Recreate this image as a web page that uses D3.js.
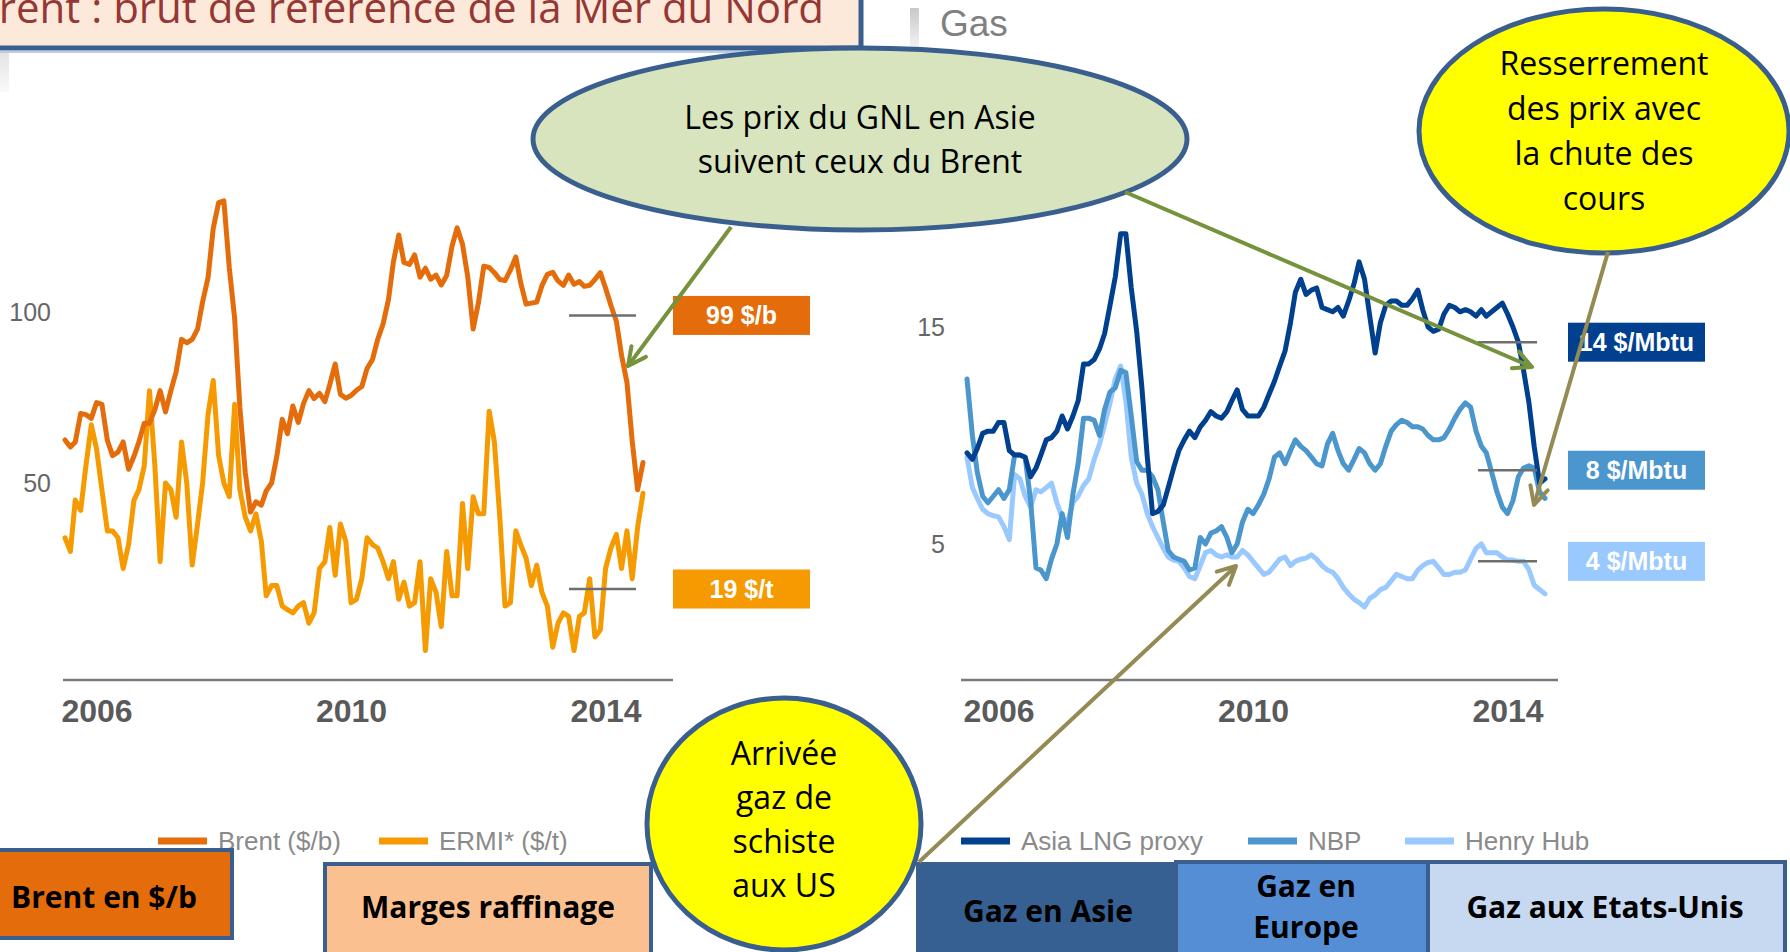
<!DOCTYPE html>
<html>
<head>
<meta charset="utf-8">
<script src="https://cdn.jsdelivr.net/npm/d3@7"></script>
<style>
  html, body { margin: 0; padding: 0; background: #fff; }
  svg { display: block; }
</style>
</head>
<body>
<script>
// monthly data, Jan 2006 -> Feb 2015
var startMonth = new Date(2006, 0, 1);
var endMonth = new Date(2015, 1, 1);
var months = d3.timeMonth.range(startMonth, d3.timeMonth.offset(endMonth, 1));

// Oil panel ($/b and $/t)
var brent = [
  62.6, 60.5, 62.0, 70.3, 70.0, 68.9, 73.5, 73.0, 62.5, 58.0, 59.0, 62.0,
  54.0, 57.8, 62.0, 67.5, 67.5, 71.5, 77.0, 70.8, 77.0, 82.5, 92.0, 91.0,
  92.0, 95.0, 103.0, 110.0, 124.5, 132.0, 132.5, 113.0, 98.0, 72.0, 53.0, 41.5,
  44.5, 43.5, 47.7, 50.0, 57.8, 68.6, 64.4, 72.5, 67.7, 73.2, 77.0, 74.7,
  76.2, 73.8, 78.8, 84.8, 75.9, 74.8, 75.6, 77.1, 78.2, 83.5, 86.1, 92.0,
  96.5, 103.7, 114.6, 122.5, 114.5, 113.9, 116.7, 110.2, 112.8, 109.6, 110.8, 107.9,
  110.7, 119.3, 124.6, 119.8, 110.3, 95.0, 102.6, 113.4, 113.0, 111.5, 109.5, 109.2,
  112.3, 116.1, 108.5, 102.3, 102.6, 102.9, 107.7, 111.0, 111.6, 109.1, 107.8, 110.8,
  108.1, 108.9, 107.5, 107.8, 109.5, 111.5, 107.0, 101.9, 97.3, 87.3, 79.4, 62.3,
  48.0, 56.0
];
var ermi = [
  34, 30, 45, 42, 55, 67, 60, 48, 36, 36, 34, 25,
  32, 45, 48, 55, 77, 55, 27, 50, 48, 40, 62, 50,
  26, 38, 50, 70, 80, 58, 50, 46, 73, 48, 40, 36,
  41, 33, 17, 20, 20, 14, 13, 12, 14, 15, 9, 12,
  25, 27, 37, 23, 38, 33, 15, 16, 22, 34, 32, 31,
  27, 22, 27, 16, 21, 14, 15, 27, 1, 22, 18, 8,
  30, 17, 17, 44, 25, 46, 41, 41, 71, 62, 40, 14,
  15, 36, 32, 28, 20, 26, 18, 14, 2, 9, 12, 11,
  1, 11, 12, 22, 5, 7, 25, 31, 35, 25, 36, 22,
  37, 47
];

// Gas panel ($/Mbtu)
var asiaLng = [
  9.2, 8.9, 9.4, 10.1, 10.2, 10.2, 10.6, 10.6, 9.3, 9.1, 9.1, 9.0,
  8.1, 8.5, 9.1, 9.8, 9.9, 10.2, 10.9, 10.3, 10.9, 11.6, 13.3, 13.3,
  13.5, 14.0, 14.7, 16.0, 17.3, 19.3, 19.3, 16.8, 14.8, 12.2, 9.0, 6.4,
  6.5, 6.8, 7.6, 8.5, 9.3, 9.8, 10.2, 9.9, 10.4, 10.7, 11.1, 10.9,
  10.8, 11.1, 11.6, 12.1, 11.2, 10.9, 10.9, 10.9, 11.3, 11.9, 12.5, 13.2,
  13.9, 15.2, 16.6, 17.2, 16.5, 16.7, 16.8, 15.9, 15.8, 15.7, 15.9, 15.5,
  16.2, 17.0, 18.0, 17.2, 15.5, 13.8, 15.2, 16.0, 16.2, 16.2, 16.0, 16.0,
  16.3, 16.7, 15.8, 15.0, 14.8, 14.9, 15.6, 16.0, 15.9, 15.7, 15.8, 15.7,
  15.5, 15.8, 15.5, 15.7, 15.9, 16.1, 15.6, 15.0, 14.3, 13.0, 11.5, 9.5,
  7.8, 8.0
];
var nbp = [
  12.6, 10.0, 8.3, 7.2, 6.9, 7.2, 7.5, 7.1, 7.5, 9.1, 9.1, 9.0,
  7.0, 3.9, 3.8, 3.4, 4.3, 5.0, 6.4, 5.3, 7.3, 8.7, 10.8, 10.8,
  10.7, 10.0, 11.2, 12.0, 12.2, 13.0, 12.9, 10.9, 8.8, 8.4, 8.4, 8.1,
  7.5, 6.0, 4.7, 4.4, 4.3, 4.2, 3.8, 3.9, 5.3, 5.0, 5.5, 5.6,
  5.8, 5.3, 4.6, 5.0, 6.0, 6.6, 6.4, 6.8, 7.3, 8.0, 9.0, 9.2,
  8.7, 9.3, 9.8, 9.5, 9.3, 9.0, 8.7, 8.6, 9.6, 10.1, 9.3, 8.7,
  8.4, 8.9, 9.4, 9.2, 8.7, 8.4, 8.7, 9.5, 10.2, 10.5, 10.7, 10.6,
  10.4, 10.4, 10.3, 10.0, 9.8, 9.8, 9.9, 10.3, 10.8, 11.2, 11.5, 11.3,
  10.2, 9.5, 9.2, 8.3, 7.4, 6.7, 6.4, 7.0, 8.1, 8.5, 8.6, 8.5,
  7.4, 7.1
];
var henryHub = [
  9.0, 7.6, 7.1, 6.6, 6.4, 6.3, 6.25, 5.8, 5.2, 8.2, 8.0, 7.2,
  6.7, 7.5, 7.4, 7.6, 7.8, 6.9, 6.2, 6.0, 6.9, 7.2, 7.7, 8.0,
  8.9, 9.6, 10.5, 11.5, 12.6, 13.2, 11.6, 9.0, 7.8, 7.3, 6.4, 5.8,
  5.3, 4.8, 4.4, 4.26, 4.2, 3.9, 3.5, 3.4, 4.0, 4.6, 4.7, 4.5,
  4.4, 4.5, 4.4, 4.4, 4.7, 4.5, 4.2, 3.9, 3.6, 3.7, 4.0, 4.3,
  4.4, 4.0, 4.2, 4.3, 4.35, 4.5, 4.3, 4.0, 3.8, 3.7, 3.4, 3.0,
  2.7, 2.45, 2.3, 2.1, 2.5, 2.65, 2.9, 3.0, 3.3, 3.6, 3.5, 3.4,
  3.4, 3.8, 4.0, 4.15, 4.2, 3.9, 3.6, 3.6, 3.7, 3.7, 3.8, 4.3,
  4.8, 5.0, 4.6, 4.6, 4.6, 4.4, 4.26, 4.26, 4.2, 4.2, 3.8, 3.1,
  2.9, 2.7
];

var yearTicks = [2006, 2010, 2014];
var oilTicks = [50, 100];
var gasTicks = [5, 15];
var oilMarkers = [99, 19];
var oilMarkerText = ["99 $/b", "19 $/t"];
var gasMarkers = [14.3, 8.4, 4.2];
var gasMarkerText = ["14 $/Mbtu", "8 $/Mbtu", "4 $/Mbtu"];
var oilLegend = ["Brent ($/b)", "ERMI* ($/t)"];
var gasLegend = ["Asia LNG proxy", "NBP", "Henry Hub"];

var oilColors = ["#e46c0a", "#f59a00"];
var gasColors = ["#00408e", "#4a96cd", "#99c9ff"];
var chartFont = "'Liberation Sans', Arial, sans-serif";
var slideFont = "'Open Sans', 'Noto Sans', sans-serif";
var frame = "#3a5f8f";

var W = 1790, H = 952;
var svg = d3.select("body").append("svg").attr("width", W).attr("height", H);

var defs = svg.append("defs");
function arrowMarker(id, color) {
  defs.append("marker")
    .attr("id", id)
    .attr("markerUnits", "userSpaceOnUse")
    .attr("viewBox", "0 0 24 24")
    .attr("markerWidth", 24).attr("markerHeight", 24)
    .attr("refX", 21).attr("refY", 12)
    .attr("orient", "auto")
    .append("path")
    .attr("d", "M3,3 L21,12 L3,21")
    .attr("fill", "none").attr("stroke", color)
    .attr("stroke-width", 4).attr("stroke-linecap", "round").attr("stroke-linejoin", "round");
}
arrowMarker("arrGreen", "#76923c");
arrowMarker("arrTan", "#948a54");

var fadeBar = defs.append("linearGradient").attr("id", "fadeBar")
  .attr("x1", 0).attr("y1", 0).attr("x2", 0).attr("y2", 1);
fadeBar.append("stop").attr("offset", 0).attr("stop-color", "#c8c8c8");
fadeBar.append("stop").attr("offset", 1).attr("stop-color", "#f4f4f4");

// ---- title box (cut at top/left) ----
svg.append("rect")
  .attr("x", -10).attr("y", -10).attr("width", 871).attr("height", 58)
  .attr("fill", "#fde9d9").attr("stroke", frame).attr("stroke-width", 5);
svg.append("line")
  .attr("x1", 0).attr("x2", 864).attr("y1", 52).attr("y2", 52)
  .attr("stroke", "#b9cde5").attr("stroke-width", 2);
svg.append("text")
  .attr("x", 824).attr("y", 23)
  .attr("text-anchor", "end")
  .attr("font-family", slideFont).attr("font-size", 42)
  .attr("fill", "#953735")
  .text("Brent : brut de référence de la Mer du Nord");

// panel headers
svg.append("rect").attr("x", 0).attr("y", 52).attr("width", 9).attr("height", 40).attr("fill", "url(#fadeBar)").attr("opacity", 0.5);
svg.append("rect").attr("x", 910).attr("y", 8).attr("width", 9).attr("height", 40).attr("fill", "url(#fadeBar)");
svg.append("text")
  .attr("x", 940).attr("y", 36)
  .attr("font-family", chartFont).attr("font-size", 37)
  .attr("fill", "#808080")
  .text("Gas");

// ---- scales ----
var xOil = d3.scaleTime().domain([startMonth, endMonth]).range([65, 643]);
var yOil = d3.scaleLinear().domain([0, 100]).range([654, 312]);
var xGas = d3.scaleTime().domain([startMonth, endMonth]).range([967, 1545]);
var yGas = d3.scaleLinear().domain([5, 15]).range([544, 327]);
var baseY = 680;

function drawPanel(x, y, series, colors, ticks, axisX, baseFrom, baseTo) {
  var g = svg.append("g");

  g.append("line")
    .attr("x1", baseFrom).attr("x2", baseTo)
    .attr("y1", baseY).attr("y2", baseY)
    .attr("stroke", "#7a7a7a").attr("stroke-width", 2.5);

  var yAxis = g.append("g")
    .attr("transform", "translate(" + axisX + ",0)")
    .call(d3.axisLeft(y).tickValues(ticks).tickSize(0).tickPadding(2));
  yAxis.select(".domain").remove();
  yAxis.selectAll("text")
    .attr("font-family", chartFont).attr("font-size", 25).attr("fill", "#666");

  var xAxis = g.append("g")
    .attr("transform", "translate(0," + baseY + ")")
    .call(d3.axisBottom(x)
      .tickValues(yearTicks.map(function(yr) { return new Date(yr, 6, 1); }))
      .tickSize(0).tickPadding(19)
      .tickFormat(d3.timeFormat("%Y")));
  xAxis.select(".domain").remove();
  xAxis.selectAll("text")
    .attr("font-family", chartFont).attr("font-size", 32)
    .attr("font-weight", "bold").attr("fill", "#5a5a5a");

  var line = d3.line()
    .x(function(d, i) { return x(months[i]); })
    .y(function(d) { return y(d); });

  // draw in reverse so the first series sits on top
  series.slice().reverse().forEach(function(s, k) {
    var idx = series.length - 1 - k;
    g.append("path")
      .datum(s)
      .attr("d", line)
      .attr("fill", "none")
      .attr("stroke", colors[idx])
      .attr("stroke-width", 5)
      .attr("stroke-linejoin", "round")
      .attr("stroke-linecap", "round");
  });
  return g;
}

drawPanel(xOil, yOil, [brent, ermi], oilColors, oilTicks, 53, 63, 673);
drawPanel(xGas, yGas, [asiaLng, nbp, henryHub], gasColors, gasTicks, 947, 961, 1558);

// latest-value markers and tags
function drawTags(y, values, labels, colors, lx1, lx2, bx) {
  values.forEach(function(v, i) {
    svg.append("line")
      .attr("x1", lx1).attr("x2", lx2)
      .attr("y1", y(v)).attr("y2", y(v))
      .attr("stroke", "#6e6e6e").attr("stroke-width", 2.5);
    svg.append("rect")
      .attr("x", bx).attr("y", y(v) - 19.5)
      .attr("width", 137).attr("height", 39)
      .attr("fill", colors[i]);
    svg.append("text")
      .attr("x", bx + 68.5).attr("y", y(v) + 9)
      .attr("text-anchor", "middle")
      .attr("font-family", chartFont).attr("font-size", 25)
      .attr("font-weight", "bold").attr("fill", "#fff")
      .text(labels[i]);
  });
}
drawTags(yOil, oilMarkers, oilMarkerText, oilColors, 569, 636, 673);
drawTags(yGas, gasMarkers, gasMarkerText, gasColors, 1478, 1537, 1568);

// legends
function drawLegend(items, colors, xs) {
  items.forEach(function(t, i) {
    svg.append("line")
      .attr("x1", xs[i]).attr("x2", xs[i] + 49)
      .attr("y1", 841).attr("y2", 841)
      .attr("stroke", colors[i]).attr("stroke-width", 7);
    svg.append("text")
      .attr("x", xs[i] + 60).attr("y", 850)
      .attr("font-family", chartFont).attr("font-size", 26)
      .attr("fill", "#8a8a8a")
      .text(t);
  });
}
drawLegend(oilLegend, oilColors, [158, 379]);
drawLegend(gasLegend, gasColors, [961, 1248, 1405]);

// ---- callouts ----
function bubble(cx, cy, rx, ry, fill, lines, baseline, step) {
  svg.append("ellipse")
    .attr("cx", cx).attr("cy", cy).attr("rx", rx).attr("ry", ry)
    .attr("fill", fill).attr("stroke", frame).attr("stroke-width", 5);
  lines.forEach(function(t, i) {
    svg.append("text")
      .attr("x", cx).attr("y", baseline + i * step)
      .attr("text-anchor", "middle")
      .attr("font-family", slideFont).attr("font-size", 32)
      .attr("fill", "#000")
      .text(t);
  });
}
bubble(860, 139, 327, 91, "#d7e4bd", ["Les prix du GNL en Asie", "suivent ceux du Brent"], 129, 44);
bubble(1604, 131, 185, 122, "#ffff00", ["Resserrement", "des prix avec", "la chute des", "cours"], 75, 45);

// bottom labels
function labelBox(x, y, w, h, fill, lines, cx, baseline, step) {
  svg.append("rect")
    .attr("x", x).attr("y", y).attr("width", w).attr("height", h)
    .attr("fill", fill).attr("stroke", frame).attr("stroke-width", 4);
  lines.forEach(function(t, i) {
    svg.append("text")
      .attr("x", cx).attr("y", baseline + i * step)
      .attr("text-anchor", "middle")
      .attr("font-family", slideFont).attr("font-size", 30)
      .attr("font-weight", "bold").attr("fill", "#000")
      .text(t);
  });
}
labelBox(-6, 850, 238, 88, "#e46c0a", ["Brent en $/b"], 104, 908, 0);
labelBox(325, 864, 326, 100, "#fac090", ["Marges raffinage"], 488, 918, 0);

bubble(784, 824, 137, 126, "#ffff00", ["Arrivée", "gaz de", "schiste", "aux US"], 765, 44);

labelBox(918, 864, 258, 100, "#376092", ["Gaz en Asie"], 1048, 922, 0);
labelBox(1428, 862, 357, 100, "#c6d9f1", ["Gaz aux Etats-Unis"], 1605, 918, 0);
labelBox(1176, 862, 252, 100, "#558ed5", ["Gaz en", "Europe"], 1306, 897, 41);

// ---- arrows ----
function arrow(x1, y1, x2, y2, color, marker) {
  svg.append("line")
    .attr("x1", x1).attr("y1", y1).attr("x2", x2).attr("y2", y2)
    .attr("stroke", color).attr("stroke-width", 4)
    .attr("marker-end", "url(#" + marker + ")");
}
arrow(731, 227, 628, 366, "#76923c", "arrGreen");
arrow(1125, 192, 1532, 367, "#76923c", "arrGreen");
arrow(1608, 252, 1534, 505, "#948a54", "arrTan");
arrow(919, 862, 1236, 566, "#948a54", "arrTan");
</script>
</body>
</html>
